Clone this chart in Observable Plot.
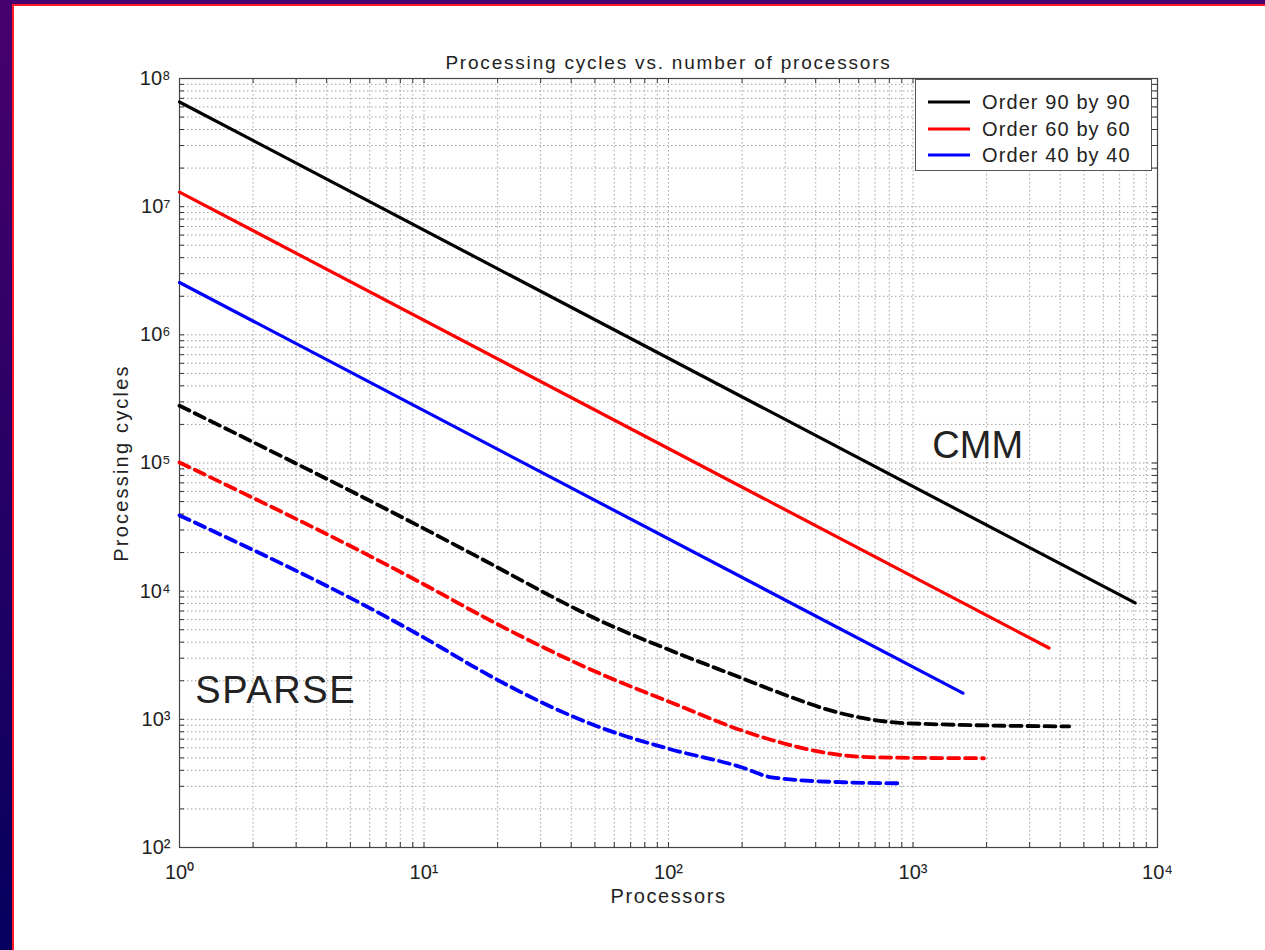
<!DOCTYPE html>
<html><head><meta charset="utf-8">
<script src="https://cdn.jsdelivr.net/npm/d3@7"></script>
<script src="https://cdn.jsdelivr.net/npm/@observablehq/plot@0.6"></script>
<style>
body{margin:0;background:#fff;width:1265px;height:950px;overflow:hidden;position:relative;font-family:"Liberation Sans",Arial,sans-serif;}
#topband{position:absolute;left:0;top:0;width:1265px;height:4px;background:#48006e;}
#topred{position:absolute;left:12px;top:4px;width:1253px;height:2px;background:#ff1828;}
#leftband{position:absolute;left:0;top:0;width:12px;height:950px;background:linear-gradient(#48006e,#06005e);}
#leftred{position:absolute;left:12px;top:4px;width:2px;height:946px;background:#ff1828;}
#chart{position:absolute;left:0;top:0;}
#legend{position:absolute;left:915px;top:79px;width:237px;height:92px;border:1px solid #555;background:#fff;box-sizing:border-box;}
.row{position:absolute;left:0;height:26px;width:235px;}
.row svg{position:absolute;left:12px;top:11px;}
.row span{position:absolute;left:66px;top:0;font-size:20px;line-height:26px;color:#222;white-space:nowrap;letter-spacing:1.1px;}
</style>
</head><body>
<div id="chart"></div>
<div id="topband"></div><div id="leftband"></div><div id="topred"></div><div id="leftred"></div>
<div id="legend"></div>
<script>
// ---- data ----
const seriesNames = ["Order 90 by 90", "Order 60 by 60", "Order 40 by 40"];
const seriesColors = ["#000000", "#ff0000", "#0000ff"];

// CMM (solid lines)
const cmmP90 = [1, 8100];
const cmmC90 = [6.56e7, 8100];
const cmmP60 = [1, 3600];
const cmmC60 = [1.3e7, 3600];
const cmmP40 = [1, 1600];
const cmmC40 = [2.56e6, 1600];

// SPARSE (dashed lines)
const spP90 = [1, 11.7, 15.6, 56.8, 100, 199, 264, 512, 964, 4350];
const spC90 = [2.8e5, 2.63e4, 1.97e4, 5.5e3, 3.5e3, 2.1e3, 1.7e3, 1.11e3, 930, 880];
const spP60 = [1, 11.7, 15.6, 56.8, 100, 199, 264, 512, 700, 1950];
const spC60 = [1.01e5, 9.6e3, 7.1e3, 2.13e3, 1.38e3, 820, 690, 525, 505, 497];
const spP40 = [1, 11.7, 15.6, 56.8, 100, 199, 264, 512, 880];
const spC40 = [3.9e4, 3.65e3, 2.64e3, 820, 590, 423, 353, 323, 317];

const xMajor = [1, 10, 100, 1000, 10000];
const yMajor = [1e2, 1e3, 1e4, 1e5, 1e6, 1e7, 1e8];
const minorMult = [2, 3, 4, 5, 6, 7, 8, 9];

const titleText = "Processing cycles vs. number of processors";
const xLabel = "Processors";
const yLabel = "Processing cycles";
const annotations = [
  {text: "CMM", p: 1200, c: 1.37e5},
  {text: "SPARSE", p: 1.16, c: 1.68e3}
];

// ---- build tables ----
function rows(ps, cs, name) { return ps.map((p, i) => ({p, c: cs[i], name})); }
const cmmRows = [
  ...rows(cmmP90, cmmC90, seriesNames[0]),
  ...rows(cmmP60, cmmC60, seriesNames[1]),
  ...rows(cmmP40, cmmC40, seriesNames[2])
];
const spRows = [
  ...rows(spP90, spC90, seriesNames[0]),
  ...rows(spP60, spC60, seriesNames[1]),
  ...rows(spP40, spC40, seriesNames[2])
];
const minorOf = majors => majors.slice(0, -1).flatMap(m => minorMult.map(k => k * m));
const xAll = [...xMajor, ...minorOf(xMajor)];
const yAll = [...yMajor, ...minorOf(yMajor)];

const supDigits = "⁰¹²³⁴⁵⁶⁷⁸⁹";
const sup = v => "10" + String(Math.round(Math.log10(v))).split("").map(d => supDigits[+d]).join("");

const W = 1265, H = 950, mL = 179, mR = 108, mT = 78, mB = 103;
const fH = H - mT - mB, fW = W - mL - mR;
const tick = 5;
const font = '"Liberation Sans", Arial, sans-serif';

const chart = Plot.plot({
  width: W, height: H,
  marginLeft: mL, marginRight: mR, marginTop: mT, marginBottom: mB,
  style: {background: "transparent", fontFamily: font, color: "#222"},
  x: {type: "log", domain: [1, 1e4], label: null},
  y: {type: "log", domain: [1e2, 1e8], label: null},
  color: {domain: seriesNames, range: seriesColors},
  marks: [
    Plot.ruleX(xAll, {x: d => d, stroke: "#a0a0a0", strokeWidth: 1, strokeDasharray: "1.5,2.5"}),
    Plot.ruleY(yAll, {y: d => d, stroke: "#a0a0a0", strokeWidth: 1, strokeDasharray: "1.5,2.5"}),
    // inward ticks on all four sides
    Plot.ruleX(xAll, {x: d => d, stroke: "#333", insetTop: fH - tick}),
    Plot.ruleX(xAll, {x: d => d, stroke: "#333", insetBottom: fH - tick}),
    Plot.ruleY(yAll, {y: d => d, stroke: "#333", insetRight: fW - tick}),
    Plot.ruleY(yAll, {y: d => d, stroke: "#333", insetLeft: fW - tick}),
    Plot.frame({stroke: "#444", strokeWidth: 1.2}),
    Plot.axisX({ticks: xMajor, tickSize: 0, tickPadding: 17, tickFormat: sup, fontSize: 20, label: null}),
    Plot.axisY({ticks: yMajor, tickSize: 0, tickPadding: 9, tickFormat: sup, fontSize: 20, label: null}),
    Plot.line(cmmRows, {x: "p", y: "c", z: "name", stroke: "name", strokeWidth: 3.2}),
    Plot.line(spRows, {x: "p", y: "c", z: "name", stroke: "name", strokeWidth: 3.8, strokeDasharray: "11,6", curve: "monotone-x"}),
    Plot.text(annotations, {x: "p", y: "c", text: "text", textAnchor: "start", fontSize: 38, fill: "#222"}),
    Plot.text([titleText], {frameAnchor: "top", textAnchor: "middle", dy: -23, fontSize: 19, fill: "#222"}),
    Plot.text([xLabel], {frameAnchor: "bottom", textAnchor: "middle", dy: 55, fontSize: 20, fill: "#222"}),
    Plot.text([yLabel], {frameAnchor: "left", textAnchor: "middle", rotate: -90, dx: -58, fontSize: 20, fill: "#222"})
  ]
});
document.getElementById("chart").appendChild(chart);

// widen the lettering of the labels as in the reference
const spacing = new Map([[titleText, 1.8], [xLabel, 1.6], [yLabel, 2.2], ["SPARSE", 1.6]]);
d3.select(chart).selectAll("text").each(function() {
  const s = spacing.get(this.textContent);
  if (s != null) this.setAttribute("letter-spacing", s);
});

// legend
const legend = document.getElementById("legend");
seriesNames.forEach((name, i) => {
  const row = document.createElement("div");
  row.className = "row";
  row.style.top = (9 + i * 26.5) + "px";
  row.innerHTML = `<svg width="42" height="4"><line x1="0" y1="2" x2="42" y2="2" stroke="${seriesColors[i]}" stroke-width="3.2"/></svg><span>${name}</span>`;
  legend.appendChild(row);
});
</script>
</body></html>
